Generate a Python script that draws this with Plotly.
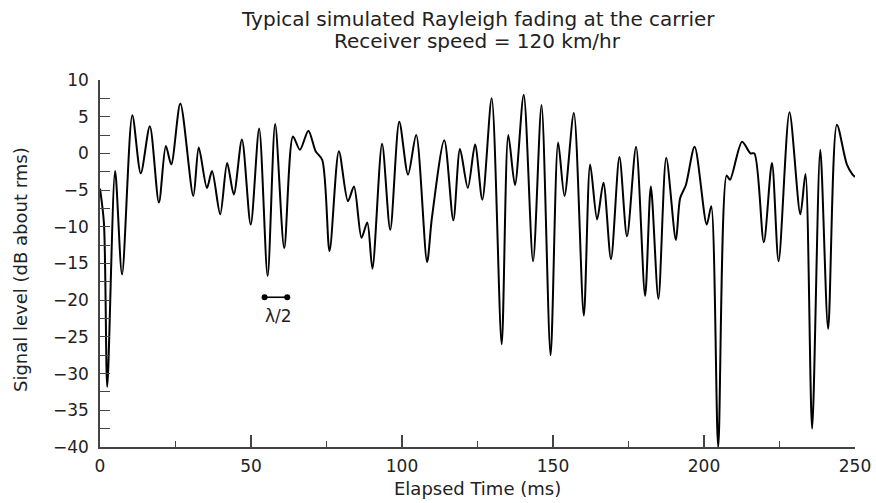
import plotly.graph_objects as go

# Elapsed time (ms) of the peaks / fades
t_ms = [0, 1.3, 2.4, 5.0, 7.3, 10.7, 13.5, 16.5, 19.5, 21.8, 23.6, 26.6, 30.9, 32.7,
        35.4, 37.1, 39.8, 42.1, 44.3, 47.0, 49.9, 52.7, 55.5, 58.0, 61.0, 63.9, 66.2,
        69.0, 71.4, 73.6, 76.0, 79.1, 82.1, 84.1, 86.6, 88.5, 90.2, 93.4, 96.1, 99.1,
        102.0, 104.7, 108.3, 109.9, 114.0, 117.0, 119.2, 121.8, 124.2, 126.6, 129.7,
        133.0, 135.2, 137.4, 140.3, 143.4, 146.2, 149.2, 151.7, 153.8, 156.9, 160.2,
        162.3, 164.6, 166.7, 169.2, 172.0, 174.5, 177.5, 180.5, 182.4, 184.9, 187.5,
        190.7, 192.1, 194.0, 196.9, 200.9, 202.4, 204.7, 207.5, 208.6, 212.6, 215.4,
        216.7, 219.8, 222.5, 224.7, 228.3, 231.9, 233.6, 235.8, 238.5, 241.1, 244.0,
        247.3, 249.2, 250.0]
# Signal level (dB about rms)
level_db = [-4.8, -9.5, -31.8, -2.4, -16.5, 5.2, -2.7, 3.7, -6.7, 1.0, -1.5, 6.8, -5.8, 0.8,
            -4.7, -2.4, -8.3, -1.3, -5.6, 1.9, -9.7, 3.4, -16.7, 4.0, -12.9, 2.3, 0.5,
            3.1, 0.3, -0.9, -13.3, 0.3, -6.5, -4.5, -11.5, -9.4, -15.7, 1.3, -10.4, 4.3,
            -2.9, 2.5, -14.8, -8.8, 1.8, -9.1, 0.6, -4.7, 1.2, -6.3, 7.5,
            -26.0, 2.5, -4.3, 8.0, -14.7, 6.6, -27.5, 1.5, -5.8, 5.5, -22.1,
            -1.5, -9.0, -4.0, -14.4, -0.5, -11.3, 0.9, -19.4, -4.5, -19.8, -0.6,
            -11.8, -6.1, -4.3, 0.9, -9.7, -7.2, -40.0, -3.0, -3.6, 1.6, 0.0,
            0.0, -12.1, -1.3, -14.7, 5.6, -8.3, -2.8, -37.5, 0.5, -23.9, 3.9,
            -1.5, -2.9, -3.2]

# half-wavelength marker
lambda_x = [54.5, 62.0]
lambda_y = [-19.6, -19.6]
lambda_label = "λ/2"

title_lines = ["Typical simulated Rayleigh fading at the carrier", "Receiver speed = 120 km/hr"]
x_title = "Elapsed Time (ms)"
y_title = "Signal level (dB about rms)"

y_ticks = [10 - 2.5 * i for i in range(21)]
y_text = [("%d" % v).replace("-", "\u2212") if v % 5 == 0 else "" for v in y_ticks]
x_ticks = [0, 50, 100, 150, 200, 250]

FONT = "DejaVu Sans, Verdana, Arial, sans-serif"
INK = "#222"

# plot area at 100..855 px horizontally and 80..447 px vertically (body margin removed)
FIG_W, FIG_H = 876, 503
M_L, M_T, M_R, M_B = 100, 80, 21, 56
PLOT_W = FIG_W - M_L - M_R   # 755
PLOT_H = FIG_H - M_T - M_B   # 367
BOTTOM = FIG_H - M_B


def py(y_px):
    return (BOTTOM - y_px) / PLOT_H


def px(x_px):
    return (x_px - M_L) / PLOT_W


fig = go.Figure()
fig.add_trace(go.Scatter(x=t_ms, y=level_db, mode="lines",
                         line=dict(color="black", width=2, shape="spline", smoothing=0.8),
                         hoverinfo="skip", showlegend=False))
fig.add_trace(go.Scatter(x=lambda_x, y=lambda_y, mode="lines+markers",
                         line=dict(color="black", width=1.6),
                         marker=dict(color="black", size=6), showlegend=False))
fig.add_annotation(x=sum(lambda_x) / 2 + 0.8, y=lambda_y[0] - 2.6, text=lambda_label,
                   showarrow=False, font=dict(size=17, color=INK, family=FONT))

fig.add_annotation(x=0.5, y=py(18.5), xref="paper", yref="paper", text=title_lines[0],
                   showarrow=False, xanchor="center", yanchor="middle",
                   font=dict(size=20, color=INK, family=FONT))
fig.add_annotation(x=0.5, y=py(40.5), xref="paper", yref="paper", text=title_lines[1],
                   showarrow=False, xanchor="center", yanchor="middle",
                   font=dict(size=20, color=INK, family=FONT))
fig.add_annotation(x=0.5, y=py(489), xref="paper", yref="paper", text=x_title,
                   showarrow=False, xanchor="center", yanchor="middle",
                   font=dict(size=18, color=INK, family=FONT))
fig.add_annotation(x=px(20), y=py(270), xref="paper", yref="paper",
                   text=y_title, textangle=-90, showarrow=False,
                   xanchor="center", yanchor="middle",
                   font=dict(size=18, color=INK, family=FONT))

fig.update_layout(
    width=FIG_W, height=FIG_H,
    margin=dict(l=M_L, r=M_R, t=M_T, b=M_B, autoexpand=False),
    paper_bgcolor="white", plot_bgcolor="white",
    font=dict(family=FONT, size=17, color=INK),
)
fig.update_xaxes(range=[0, 250], tickvals=x_ticks, ticks="inside", ticklen=12, tickwidth=1.5,
                 tickcolor="#444", showline=True, linecolor="#444", linewidth=1.5,
                 showgrid=False, zeroline=False, ticklabelstandoff=3, automargin=False,
                 ticklabeloverflow="allow",
                 minor=dict(dtick=25, ticks="inside", ticklen=6, tickwidth=1.2, tickcolor="#444"),
                 tickfont=dict(size=17))
fig.update_yaxes(range=[-40, 10], tickmode="array", tickvals=y_ticks, ticktext=y_text,
                 ticks="inside", ticklen=10, tickwidth=1.3, tickcolor="#444",
                 showline=True, linecolor="#444", linewidth=1.5, showgrid=False, zeroline=False,
                 ticklabelstandoff=6, automargin=False, ticklabeloverflow="allow",
                 tickfont=dict(size=17))

fig.write_html("out.html", config={"displayModeBar": False},
               post_script="document.body.style.margin='0';document.body.style.overflow='hidden';")
